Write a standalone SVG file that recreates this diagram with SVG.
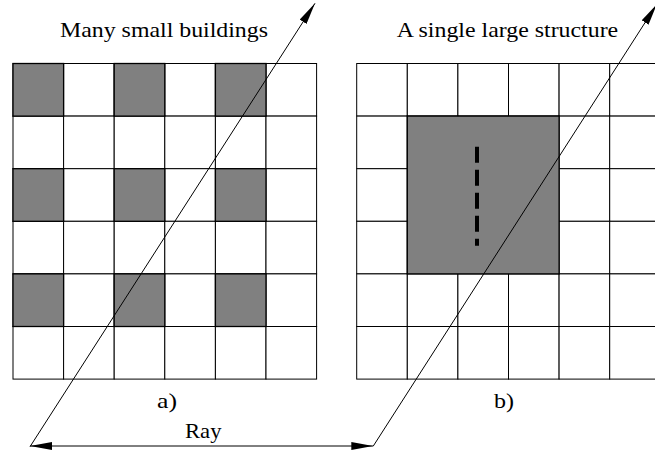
<svg xmlns="http://www.w3.org/2000/svg" width="655" height="455" viewBox="0 0 655 455">
<defs>
<marker id="ah" viewBox="0 0 22 8" refX="22" refY="4" markerWidth="22" markerHeight="8" markerUnits="userSpaceOnUse" orient="auto-start-reverse">
<path d="M0,0 L22,4 L0,8 z" fill="#000"/>
</marker>
<g id="row6" fill="#fff" stroke="#000" stroke-width="1">
<rect x="0" y="0" width="50.6" height="52.6"/>
<rect x="50.6" y="0" width="50.6" height="52.6"/>
<rect x="101.2" y="0" width="50.6" height="52.6"/>
<rect x="151.8" y="0" width="50.6" height="52.6"/>
<rect x="202.4" y="0" width="50.6" height="52.6"/>
<rect x="253" y="0" width="50.6" height="52.6"/>
</g>
</defs>

<g id="panel-a">
<g id="grid-a" transform="translate(13,63.5)">
<use href="#row6" y="0"/>
<use href="#row6" y="52.6"/>
<use href="#row6" y="105.2"/>
<use href="#row6" y="157.8"/>
<use href="#row6" y="210.4"/>
<use href="#row6" y="263"/>
</g>
<g id="buildings-a" fill="#808080" stroke="#000" stroke-width="1.3">
<rect x="13" y="63.5" width="50.6" height="52.6"/>
<rect x="114.2" y="63.5" width="50.6" height="52.6"/>
<rect x="215.4" y="63.5" width="50.6" height="52.6"/>
<rect x="13" y="168.7" width="50.6" height="52.6"/>
<rect x="114.2" y="168.7" width="50.6" height="52.6"/>
<rect x="215.4" y="168.7" width="50.6" height="52.6"/>
<rect x="13" y="273.9" width="50.6" height="52.6"/>
<rect x="114.2" y="273.9" width="50.6" height="52.6"/>
<rect x="215.4" y="273.9" width="50.6" height="52.6"/>
</g>
<text id="title-a" x="60" y="36.7" font-family="Liberation Serif" font-size="21" textLength="208" lengthAdjust="spacingAndGlyphs">Many small buildings</text>
<text id="label-a" x="157" y="407.5" font-family="Liberation Serif" font-size="21" textLength="20" lengthAdjust="spacingAndGlyphs">a)</text>
</g>

<g id="panel-b">
<g id="grid-b" transform="translate(356.7,63.5)">
<use href="#row6" y="0"/>
<use href="#row6" y="52.6"/>
<use href="#row6" y="105.2"/>
<use href="#row6" y="157.8"/>
<use href="#row6" y="210.4"/>
<use href="#row6" y="263"/>
</g>
<rect id="structure-b" x="407.3" y="116.1" width="151.8" height="157.8" fill="#808080" stroke="#000" stroke-width="1.3"/>
<line id="dash-b" x1="477" y1="146.7" x2="477" y2="245.7" stroke="#000" stroke-width="4" stroke-dasharray="16 7"/>
<text id="title-b" x="396.7" y="36.7" font-family="Liberation Serif" font-size="21" textLength="221.5" lengthAdjust="spacingAndGlyphs">A single large structure</text>
<text id="label-b" x="494" y="407.5" font-family="Liberation Serif" font-size="21" textLength="20" lengthAdjust="spacingAndGlyphs">b)</text>
</g>

<g id="connectors" stroke="#000" stroke-width="1" fill="none">
<line x1="30" y1="446.7" x2="315" y2="3.3" marker-end="url(#ah)"/>
<line x1="373.3" y1="446" x2="657" y2="4" marker-end="url(#ah)"/>
<line x1="30" y1="446" x2="373.3" y2="446" marker-start="url(#ah)" marker-end="url(#ah)"/>
</g>
<text id="label-ray" x="185" y="438.3" font-family="Liberation Serif" font-size="21" textLength="36.5" lengthAdjust="spacingAndGlyphs">Ray</text>
</svg>
